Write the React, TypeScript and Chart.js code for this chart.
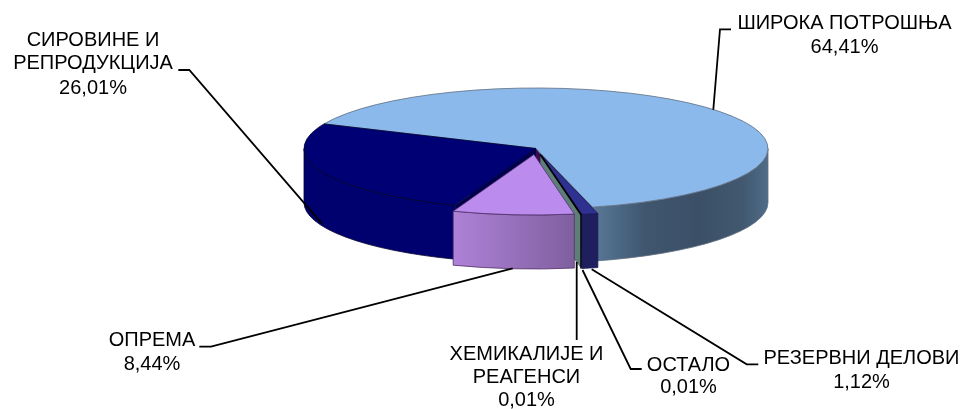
import React, { useEffect, useRef } from "react";
import { Chart, registerables } from "chart.js";

Chart.register(...registerables);

const categories = ["ШИРОКА ПОТРОШЊА", "РЕЗЕРВНИ ДЕЛОВИ", "ОСТАЛО", "ХЕМИКАЛИЈЕ И РЕАГЕНСИ", "ОПРЕМА", "СИРОВИНЕ И РЕПРОДУКЦИЈА"];
const shares = [64.41, 1.12, 0.01, 0.01, 8.44, 26.01];
const shareLabels = ["64,41%", "1,12%", "0,01%", "0,01%", "8,44%", "26,01%"];

const labelLines = [
  ["ШИРОКА ПОТРОШЊА", "64,41%"],
  ["РЕЗЕРВНИ ДЕЛОВИ", "1,12%"],
  ["ОСТАЛО", "0,01%"],
  ["ХЕМИКАЛИЈЕ И", "РЕАГЕНСИ", "0,01%"],
  ["ОПРЕМА", "8,44%"],
  ["СИРОВИНЕ И", "РЕПРОДУКЦИЈА", "26,01%"],
];
const labelX = [844.5, 861.5, 688.5, 526.5, 152, 93];
const labelY = [[23, 47], [358, 382], [365, 387], [354, 377, 400], [340.5, 364], [40, 63, 88]];
const leaders = [
  [[713.3, 109.7], [720, 29.3], [731, 29.3]],
  [[591.7, 269.3], [746.7, 364.3], [758.3, 364.3]],
  [[582.5, 270], [630.7, 369], [641.7, 369]],
  [[576.7, 262], [576.7, 340]],
  [[512.7, 268.3], [211, 346.7], [199.3, 346.7]],
  [[321.7, 223.3], [189.3, 70], [178.3, 70]],
];

const topColors = ["#8CB9EC", "#2E318F", "#5E7F78", "#3C0A50", "#BB8CEE", "#000075"];
const wallColors = ["#4A6580", "#1F1F60", "#5E7F78", "#3C0A50", "#966FC0", "#00006E"];
const faceColors = ["#3D5269", "#1F1F60", "#5E7F78", "#3C0A50", "#7F5F9E", "#00004E"];
const edgeColors = ["#5F6F80", "#1A1A55", "#000000", "", "#50306A", "#000030"];
const explode = [0, 25, 25, 0, 23, 0];
const drawOrder = [0, 5, 3, 1, 2, 4];
const verticalRatio = 60.5 / 232;
const depth = 54;

const pie3d = {
  id: "pie3d",
  beforeDatasetsDraw(chart: any) {
    const ctx = chart.ctx as CanvasRenderingContext2D;
    const arcs = chart.getDatasetMeta(0).data;
    for (const i of drawOrder) {
      const el = arcs[i];
      const { x, y, startAngle: a0, endAngle: a1, outerRadius: r } = el.getProps(["x", "y", "startAngle", "endAngle", "outerRadius"], true);
      const mid = (a0 + a1) / 2;
      const e = el.options.offset || 0;
      const cx = x + Math.cos(mid) * e;
      const cy = y + Math.sin(mid) * e * verticalRatio;
      const ry = r * verticalRatio;
      const px = (a: number) => cx + Math.cos(a) * r;
      const py = (a: number) => cy + Math.sin(a) * ry;
      ctx.lineWidth = 0.8;
      ctx.lineJoin = "round";

      const face = (a: number) => {
        ctx.beginPath();
        ctx.moveTo(cx, cy);
        ctx.lineTo(px(a), py(a));
        ctx.lineTo(px(a), py(a) + depth);
        ctx.lineTo(cx, cy + depth);
        ctx.closePath();
        ctx.fillStyle = faceColors[i];
        ctx.fill();
      };
      if (Math.cos(a0) < 0) face(a0);
      if (Math.cos(a1) > 0) face(a1);

      // outer wall: only the part on the front half
      const TAU = Math.PI * 2;
      for (const k of [0, 1]) {
        const from = Math.max(a0, k * TAU);
        const to = Math.min(a1, k * TAU + Math.PI);
        if (to <= from) continue;
        const grad = ctx.createLinearGradient(px(to), 0, px(from), 0);
        if (i === 0) {
          grad.addColorStop(0, "#5A7A98");
          grad.addColorStop(0.1, "#506D8B");
          grad.addColorStop(0.3, "#3F566E");
          grad.addColorStop(0.6, "#3B5067");
          grad.addColorStop(0.85, "#41586F");
          grad.addColorStop(1, "#4F6C88");
        } else if (i === 4) {
          grad.addColorStop(0, "#AE82D8");
          grad.addColorStop(1, "#7F5F9E");
        } else {
          grad.addColorStop(0, wallColors[i]);
          grad.addColorStop(1, wallColors[i]);
        }
        ctx.beginPath();
        ctx.ellipse(cx, cy, r, ry, 0, from, to);
        ctx.ellipse(cx, cy + depth, r, ry, 0, to, from, true);
        ctx.closePath();
        ctx.fillStyle = grad;
        ctx.fill();
        if (edgeColors[i]) {
          ctx.strokeStyle = edgeColors[i];
          ctx.stroke();
        }
      }

      // top face
      ctx.beginPath();
      ctx.moveTo(cx, cy);
      ctx.ellipse(cx, cy, r, ry, 0, a0, a1);
      ctx.closePath();
      ctx.fillStyle = el.options.backgroundColor;
      ctx.fill();
      if (edgeColors[i]) {
        ctx.strokeStyle = edgeColors[i];
        ctx.lineWidth = i === 2 ? 1.6 : 0.8;
        ctx.stroke();
      }
    }

    ctx.strokeStyle = "#000000";
    ctx.lineWidth = 1.8;
    ctx.lineJoin = "miter";
    leaders.forEach((pts) => {
      ctx.beginPath();
      pts.forEach((p, j) => (j ? ctx.lineTo(p[0], p[1]) : ctx.moveTo(p[0], p[1])));
      ctx.stroke();
    });

    ctx.fillStyle = "#000000";
    ctx.font = '20px "Liberation Sans", Arial, sans-serif';
    ctx.textAlign = "center";
    ctx.textBaseline = "middle";
    labelLines.forEach((lines, i) => {
      lines.forEach((t, j) => ctx.fillText(t, labelX[i], labelY[i][j]));
    });
    return false;
  },
};

export default function App() {
  const ref = useRef<HTMLCanvasElement>(null);
  useEffect(() => {
    const chart = new Chart(ref.current!, {
      type: "pie",
      data: {
        labels: categories,
        datasets: [
          {
            data: shares,
            backgroundColor: topColors,
            borderWidth: 0,
            offset: explode,
          },
        ],
      },
      options: {
        animation: false,
        responsive: false,
        rotation: 294,
        radius: 232,
        layout: { padding: { left: 108, bottom: 112 } },
        plugins: {
          legend: { display: false },
          tooltip: { enabled: false },
          title: { display: false },
        },
      },
      plugins: [pie3d],
    } as any);
    return () => chart.destroy();
  }, []);
  return (
    <canvas
      ref={ref}
      width={964}
      height={409}
      style={{ position: "fixed", left: 0, top: 0, width: 964, height: 409, display: "block" }}
      aria-label={shareLabels.join(" ")}
    />
  );
}
